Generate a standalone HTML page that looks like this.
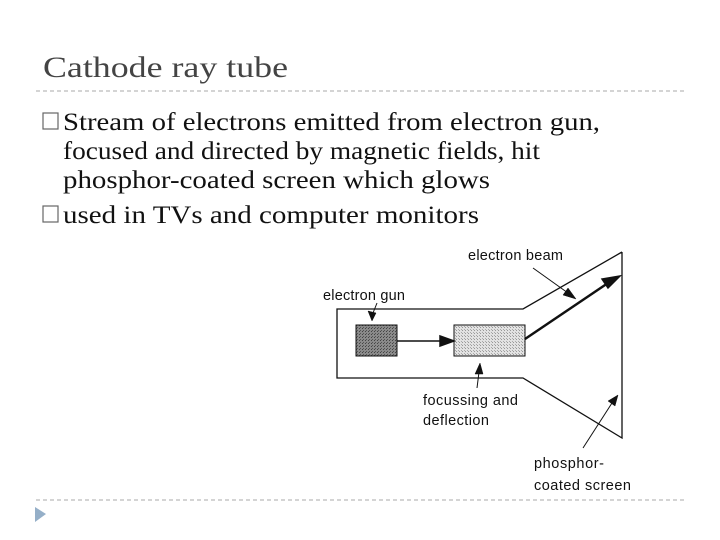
<!DOCTYPE html>
<html><head><meta charset="utf-8"><style>
body{margin:0;background:#fff}
svg{display:block}
</style></head><body>
<svg width="720" height="540" viewBox="0 0 720 540" xmlns="http://www.w3.org/2000/svg">
<defs>
<pattern id="dk" width="3" height="3" patternUnits="userSpaceOnUse"><rect width="3" height="3" fill="#8a8a8a"/><rect width="1" height="1" fill="#555"/><rect x="2" y="1" width="1" height="1" fill="#444"/></pattern>
<pattern id="lt" width="3" height="3" patternUnits="userSpaceOnUse"><rect width="3" height="3" fill="#e2e2e2"/><rect width="1" height="1" fill="#999"/><rect x="2" y="2" width="1" height="1" fill="#aaa"/></pattern>
</defs>
<text x="43" y="77" font-family="Liberation Serif" font-size="30" fill="#444" textLength="245" lengthAdjust="spacingAndGlyphs">Cathode ray tube</text>
<line x1="36" y1="91" x2="686" y2="91" stroke="#aaa" stroke-dasharray="4,3"/>
<g font-family="Liberation Serif" font-size="25" fill="#111">
<rect x="43" y="113" width="15" height="16" fill="none" stroke="#666" stroke-width="1.2"/>
<text x="63" y="130" textLength="537" lengthAdjust="spacingAndGlyphs">Stream of electrons emitted from electron gun,</text>
<text x="63" y="159" textLength="477" lengthAdjust="spacingAndGlyphs">focused and directed by magnetic fields, hit</text>
<text x="63" y="188" textLength="427" lengthAdjust="spacingAndGlyphs">phosphor-coated screen which glows</text>
<rect x="43" y="206" width="15" height="16" fill="none" stroke="#666" stroke-width="1.2"/>
<text x="63" y="223" textLength="416" lengthAdjust="spacingAndGlyphs">used in TVs and computer monitors</text>
</g>
<line x1="36" y1="500" x2="686" y2="500" stroke="#aaa" stroke-dasharray="4,3"/>
<polygon points="35,507 46,514 35,522" fill="#95afc8"/>
<g stroke="#111" fill="none" stroke-width="1.3">
<polyline points="622,252 523,309 337,309 337,378 523,378 622,438 622,252"/>
</g>
<rect x="356" y="325" width="41" height="31" fill="url(#dk)" stroke="#111"/>
<rect x="454" y="325" width="71" height="31" fill="url(#lt)" stroke="#111"/>
<g stroke="#111" stroke-width="1.5">
<line x1="397" y1="341" x2="442" y2="341"/>
<polygon points="454,341 440,336 440,346" fill="#111"/>
<line x1="525" y1="339" x2="608" y2="283" stroke-width="2.5"/>
<polygon points="620,276 602,279 608,288" fill="#111"/>
<line x1="533" y1="268" x2="568" y2="293" stroke-width="1"/>
<polygon points="576,299 563,295 568,288" fill="#111" stroke-width="0.5"/>
<line x1="377" y1="303" x2="373" y2="313" stroke-width="1"/>
<polygon points="372,321 368,311 376,313" fill="#111" stroke-width="0.5"/>
<line x1="477" y1="388" x2="479" y2="372" stroke-width="1"/>
<polygon points="480,363 475,374 483,374" fill="#111" stroke-width="0.5"/>
<line x1="583" y1="448" x2="612" y2="403" stroke-width="1"/>
<polygon points="618,395 608,401 615,406" fill="#111" stroke-width="0.5"/>
</g>
<g font-family="Liberation Sans" font-size="14.5" fill="#111" lengthAdjust="spacingAndGlyphs">
<text x="468" y="260" textLength="95">electron beam</text>
<text x="323" y="300" textLength="82">electron gun</text>
<text x="423" y="405" textLength="95">focussing and</text>
<text x="423" y="425" textLength="66">deflection</text>
<text x="534" y="468" textLength="70">phosphor-</text>
<text x="534" y="490" textLength="97">coated screen</text>
</g>
</svg>
</body></html>
